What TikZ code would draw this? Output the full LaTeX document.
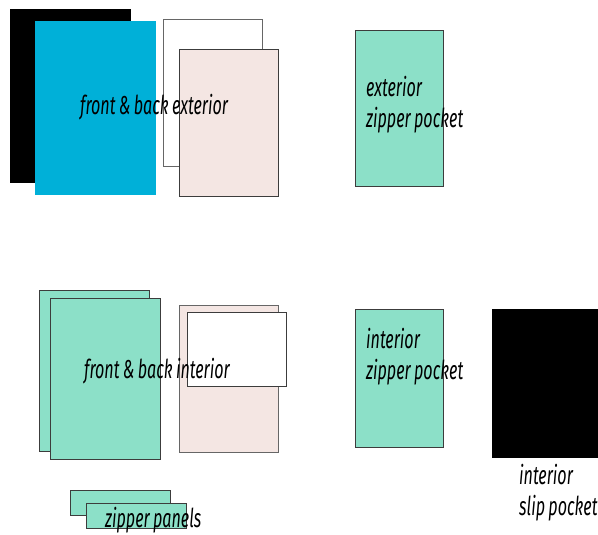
\documentclass[tikz,border=0pt]{standalone}
\usepackage{fontspec}
\newfontfamily\piecefont{Fira Sans}[FakeStretch=0.62,WordSpace=0.8]
\usepackage{tikz}
\definecolor{cutblue}{HTML}{00B0D8}
\definecolor{cutgreen}{HTML}{8CE0C8}
\definecolor{cutpink}{HTML}{F4E6E3}
\definecolor{cutline}{HTML}{3C3C3C}
\tikzset{
  piece/.style={draw=cutline,line width=1pt,rectangle,inner sep=0,anchor=north west},
  solid piece/.style={rectangle,inner sep=0,anchor=north west},
  tag/.style={font=\piecefont\itshape\fontsize{26}{31}\selectfont,inner sep=0,anchor=base west,align=left}
}

\begin{document}
\begin{tikzpicture}[x=1pt,y=-1pt]
      \useasboundingbox (0,0) rectangle (598,535);
      \clip (0,0) rectangle (598,535);
      % exterior
      \draw (10, 9) node [solid piece,fill=black,minimum width=121pt,minimum height=174pt] (extback) {};
      \draw (35, 21) node [solid piece,fill=cutblue,minimum width=121pt,minimum height=174pt] (extfront) {};
      \draw (163, 19) node [piece,draw=gray!80!black,fill=white,minimum width=99pt,minimum height=147pt] (extlinewhite) {};
      \draw (179, 49) node [piece,fill=cutpink,minimum width=99pt,minimum height=147pt] (extlinepink) {};
      \draw (80, 115) node [tag] (extlabel) {front \& back exterior};
      \draw (355, 30) node [piece,fill=cutgreen,minimum width=88pt,minimum height=156pt] (extpocket) {};
      \draw (366, 128) node [tag] (extpocketlabel) {exterior\\zipper pocket};
      % interior
      \draw (39, 290) node [piece,fill=cutgreen,minimum width=110pt,minimum height=161pt] (intback) {};
      \draw (50, 298) node [piece,fill=cutgreen,minimum width=110pt,minimum height=161pt] (intfront) {};
      \draw (179, 305) node [piece,draw=gray!80!black,fill=cutpink,minimum width=99pt,minimum height=147pt] (intpink) {};
      \draw (187, 312) node [piece,fill=white,minimum width=99pt,minimum height=74pt] (intwhite) {};
      \draw (84, 378) node [tag] (intlabel) {front \& back interior};
      \draw (355, 309) node [piece,fill=cutgreen,minimum width=88pt,minimum height=138pt] (intpocket) {};
      \draw (366, 379) node [tag] (intpocketlabel) {interior\\zipper pocket};
      \draw (492, 309) node [solid piece,fill=black,minimum width=110pt,minimum height=149pt] (slippocket) {};
      \draw (519, 515) node [tag] (sliplabel) {interior\\slip pocket};
      % zipper panels
      \draw (70, 490) node [piece,fill=cutgreen,minimum width=100pt,minimum height=25pt] (zipback) {};
      \draw (86, 503) node [piece,fill=cutgreen,minimum width=100pt,minimum height=25pt] (zipfront) {};
      \draw (105, 527) node [tag] (ziplabel) {zipper panels};
    \end{tikzpicture}
\end{document}
